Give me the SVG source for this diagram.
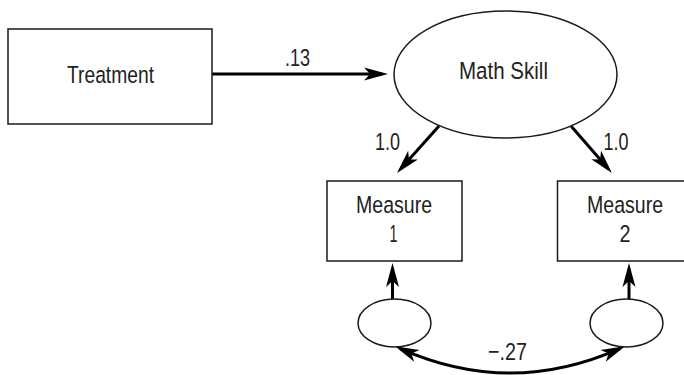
<svg xmlns="http://www.w3.org/2000/svg" width="684" height="375" viewBox="0 0 684 375">
<style>
  .box{fill:#fff;stroke:#1a1a1a;stroke-width:1.5}
  .ell{fill:#fff;stroke:#1a1a1a;stroke-width:1.5}
  .lbl{font-family:"Liberation Sans",Arial,sans-serif;font-size:24.5px;fill:#222;text-anchor:middle}
  .arr{fill:none;stroke:#000;stroke-width:3}
</style>
<defs>
  <marker id="ah" markerUnits="userSpaceOnUse" orient="auto-start-reverse" refX="18" refY="0" markerWidth="30" markerHeight="16" overflow="visible">
    <path d="M0,-6.5 L24,0 L0,6.5 L6,0 Z" fill="#000"/>
  </marker>
</defs>
<g id="connectors">
  <line class="arr" x1="212" y1="74" x2="382" y2="74" marker-end="url(#ah)"/>
  <line class="arr" x1="439" y1="126" x2="401" y2="168.5" marker-end="url(#ah)"/>
  <line class="arr" x1="571" y1="126" x2="608" y2="168.5" marker-end="url(#ah)"/>
  <line class="arr" x1="392.5" y1="299" x2="392.5" y2="269" marker-end="url(#ah)"/>
  <line class="arr" x1="629" y1="299" x2="629" y2="269" marker-end="url(#ah)"/>
  <path class="arr" d="M400.4,348.6 Q510,397.4 619.6,348.6" marker-start="url(#ah)" marker-end="url(#ah)"/>
  <text class="lbl" x="297.5" y="66" textLength="25" lengthAdjust="spacingAndGlyphs">.13</text>
  <text class="lbl" x="387.5" y="150" textLength="25" lengthAdjust="spacingAndGlyphs">1.0</text>
  <text class="lbl" x="616" y="150" textLength="25" lengthAdjust="spacingAndGlyphs">1.0</text>
  <text class="lbl" x="507.5" y="360" textLength="39" lengthAdjust="spacingAndGlyphs">−.27</text>
</g>
<g id="treatment">
  <rect class="box" x="8" y="29" width="204" height="95"/>
  <text class="lbl" x="110.5" y="83" textLength="87" lengthAdjust="spacingAndGlyphs">Treatment</text>
</g>
<g id="mathskill">
  <ellipse class="ell" cx="505.5" cy="74.5" rx="111.5" ry="63.5"/>
  <text class="lbl" x="503.5" y="79" textLength="89" lengthAdjust="spacingAndGlyphs">Math Skill</text>
</g>
<g id="measure1">
  <rect class="box" x="327" y="181" width="135" height="80"/>
  <text class="lbl" x="394" y="213" textLength="76" lengthAdjust="spacingAndGlyphs">Measure</text>
  <text class="lbl" x="393.5" y="242" textLength="8" lengthAdjust="spacingAndGlyphs">1</text>
</g>
<g id="measure2">
  <rect class="box" x="557.5" y="181" width="135" height="80"/>
  <text class="lbl" x="625" y="213" textLength="76" lengthAdjust="spacingAndGlyphs">Measure</text>
  <text class="lbl" x="625" y="242" textLength="11" lengthAdjust="spacingAndGlyphs">2</text>
</g>
<g id="error1">
  <ellipse class="ell" cx="394.5" cy="323" rx="36.5" ry="24"/>
</g>
<g id="error2">
  <ellipse class="ell" cx="626.5" cy="323" rx="36.5" ry="24"/>
</g>
</svg>
